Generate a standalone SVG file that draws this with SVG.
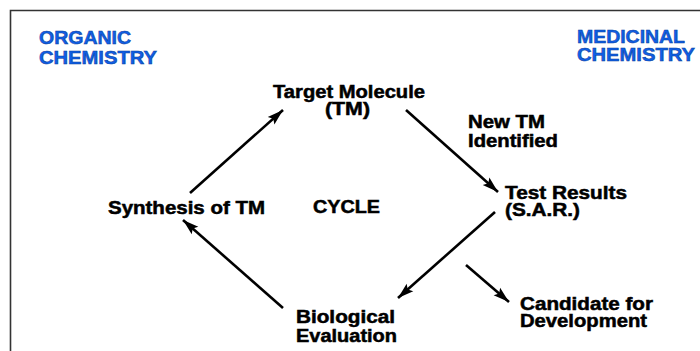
<svg xmlns="http://www.w3.org/2000/svg" width="700" height="351" viewBox="0 0 700 351">
<style>
.t{font-family:"Liberation Sans",Arial,sans-serif;font-weight:bold;font-size:17.5px;fill:#000;stroke:#000;stroke-width:0.5}
.b{font-family:"Liberation Sans",Arial,sans-serif;font-weight:bold;font-size:17.5px;fill:#0f5fe6;stroke:#0a3c9c;stroke-width:0.5}
.c{stroke:#000;stroke-width:2.6;fill:none;marker-end:url(#ah)}
</style>
<defs>
<marker id="ah" markerUnits="userSpaceOnUse" markerWidth="18" markerHeight="12" refX="16" refY="5" orient="auto" viewBox="0 0 18 10">
<path d="M0,0 L16,5 L0,10 L3,5 Z" fill="#000"/>
</marker>
</defs>
<rect width="700" height="351" fill="#fff"/>
<path d="M10.5,351 V10.5 H700" fill="none" stroke="#333" stroke-width="1.6"/>
<g id="organic"><text class="b" x="39" y="44" textLength="92" lengthAdjust="spacingAndGlyphs">ORGANIC</text><text class="b" x="39" y="64" textLength="118" lengthAdjust="spacingAndGlyphs">CHEMISTRY</text></g>
<g id="medicinal"><text class="b" x="577" y="43" textLength="108" lengthAdjust="spacingAndGlyphs">MEDICINAL</text><text class="b" x="577" y="61" textLength="118" lengthAdjust="spacingAndGlyphs">CHEMISTRY</text></g>
<g id="target"><text class="t" x="273" y="98" textLength="152" lengthAdjust="spacingAndGlyphs">Target Molecule</text><text class="t" x="325" y="115" textLength="45" lengthAdjust="spacingAndGlyphs">(TM)</text></g>
<g id="newtm"><text class="t" x="468" y="128" textLength="77" lengthAdjust="spacingAndGlyphs">New TM</text><text class="t" x="468" y="147" textLength="90" lengthAdjust="spacingAndGlyphs">Identified</text></g>
<g id="test"><text class="t" x="505" y="199" textLength="122" lengthAdjust="spacingAndGlyphs">Test Results</text><text class="t" x="505" y="216" textLength="75" lengthAdjust="spacingAndGlyphs">(S.A.R.)</text></g>
<g id="synthesis"><text class="t" x="108" y="214" textLength="157" lengthAdjust="spacingAndGlyphs">Synthesis of TM</text></g>
<g id="cycle"><text class="t" x="313" y="213" textLength="67" lengthAdjust="spacingAndGlyphs">CYCLE</text></g>
<g id="bio"><text class="t" x="296" y="323" textLength="99" lengthAdjust="spacingAndGlyphs">Biological</text><text class="t" x="296" y="342" textLength="101" lengthAdjust="spacingAndGlyphs">Evaluation</text></g>
<g id="candidate"><text class="t" x="520" y="310" textLength="133" lengthAdjust="spacingAndGlyphs">Candidate for</text><text class="t" x="520" y="327" textLength="127" lengthAdjust="spacingAndGlyphs">Development</text></g>
<g id="connectors">
<line class="c" x1="190" y1="193" x2="283" y2="110"/>
<line class="c" x1="406" y1="110" x2="498" y2="192"/>
<line class="c" x1="495" y1="212" x2="398" y2="298"/>
<line class="c" x1="283" y1="308" x2="183" y2="220"/>
<line class="c" x1="466" y1="265" x2="509" y2="302"/>
</g>
</svg>
